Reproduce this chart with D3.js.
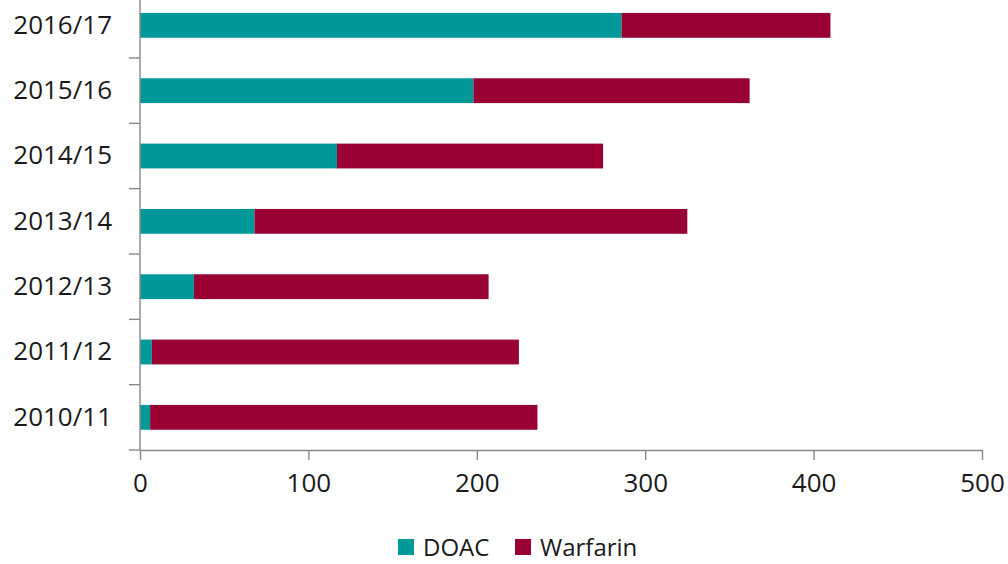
<!DOCTYPE html>
<html>
<head>
<meta charset="utf-8">
<script src="https://cdn.jsdelivr.net/npm/d3@7"></script>
<style>
  html, body { margin: 0; padding: 0; background: #fff; }
  svg { display: block; }
  text { font-family: "Open Sans", "Noto Sans", sans-serif; fill: #1a1a1a; }
</style>
</head>
<body>
<svg id="chart" width="1008" height="564"></svg>
<script>
// Data (bottom to top as in the chart)
const categories = ["2010/11", "2011/12", "2012/13", "2013/14", "2014/15", "2015/16", "2016/17"];
const doac =       [6, 7, 32, 68, 117, 198, 286];
const warfarin =   [230, 218, 175, 257, 158, 164, 124];
const seriesNames = ["DOAC", "Warfarin"];
const xTicks = [0, 100, 200, 300, 400, 500];

const colors = { DOAC: "#009999", Warfarin: "#990033" };
const axisColor = "#898989";
const fontSize = 26;

const svg = d3.select("#chart");
const plot = { left: 140, right: 982, bottom: 450 };
const step = 65.33;

const x = d3.scaleLinear().domain([0, 500]).range([plot.left, plot.right]);
const y = d3.scaleBand()
  .domain(categories)
  .range([plot.bottom, plot.bottom - step * categories.length])
  .paddingInner(0.62)
  .paddingOuter(0.31);

const rows = categories.map((c, i) => ({ cat: c, DOAC: doac[i], Warfarin: warfarin[i] }));
const stacked = d3.stack().keys(seriesNames)(rows);

// Bars
svg.append("g").selectAll("g")
  .data(stacked)
  .join("g")
  .attr("fill", d => colors[d.key])
  .selectAll("rect")
  .data(d => d)
  .join("rect")
  .attr("x", d => x(d[0]))
  .attr("width", d => x(d[1]) - x(d[0]))
  .attr("y", d => y(d.data.cat))
  .attr("height", y.bandwidth());

// X axis
const xAxis = svg.append("g")
  .attr("transform", `translate(0,${plot.bottom})`)
  .call(d3.axisBottom(x).tickValues(xTicks).tickSize(10).tickSizeOuter(0).tickPadding(13).tickFormat(d3.format("d")));
xAxis.select(".domain").attr("stroke", axisColor).attr("stroke-width", 1.4);
xAxis.selectAll(".tick line").attr("stroke", axisColor).attr("stroke-width", 1.4);
xAxis.selectAll(".tick text").attr("font-size", fontSize).attr("font-family", null).attr("fill", "#1a1a1a").attr("dy", "0.72em");

// Y axis (labels at band centres, tick marks at band boundaries)
const yAxis = svg.append("g")
  .attr("transform", `translate(${plot.left},0)`)
  .call(d3.axisLeft(y).tickSize(0).tickPadding(28).tickSizeOuter(0));
yAxis.select(".domain").remove();
yAxis.selectAll(".tick text").attr("font-size", fontSize).attr("font-family", null).attr("fill", "#1a1a1a");

const yTop = y.range()[1];
svg.append("line")
  .attr("x1", plot.left).attr("x2", plot.left)
  .attr("y1", yTop).attr("y2", plot.bottom)
  .attr("stroke", axisColor).attr("stroke-width", 1.4);

const boundaries = d3.range(0, categories.length + 1).map(i => plot.bottom - i * y.step());
svg.append("g").selectAll("line")
  .data(boundaries)
  .join("line")
  .attr("x1", plot.left - 11).attr("x2", plot.left)
  .attr("y1", d => d).attr("y2", d => d)
  .attr("stroke", axisColor).attr("stroke-width", 1.4);

// Legend
const legend = svg.append("g").attr("transform", "translate(398,537)");
const legendX = [0, 117];
seriesNames.forEach((name, i) => {
  const g = legend.append("g").attr("transform", `translate(${legendX[i]},0)`);
  g.append("rect").attr("y", 2).attr("width", 16).attr("height", 16).attr("fill", colors[name]);
  g.append("text").attr("x", 25).attr("y", 10).attr("dy", "0.36em")
    .attr("font-size", 24).text(name);
});
</script>
</body>
</html>
